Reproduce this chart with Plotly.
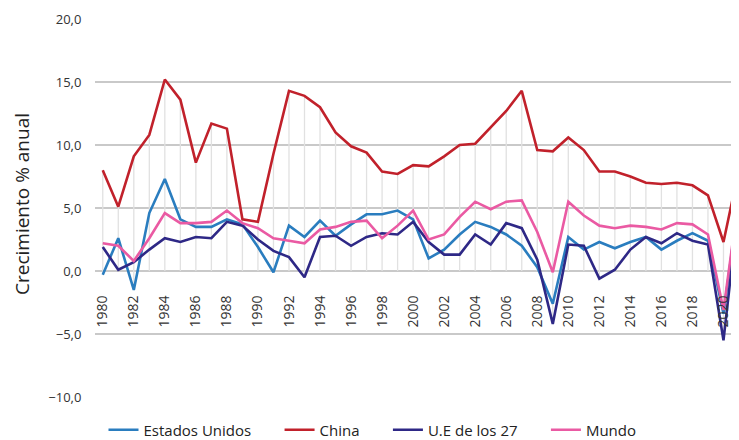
import plotly.graph_objects as go

# Years and annual growth (%)
years = list(range(1980, 2022))

estados_unidos = [-0.3, 2.6, -1.5, 4.6, 7.3, 4.1, 3.5, 3.5, 4.1, 3.7,
                  1.9, -0.1, 3.6, 2.7, 4.0, 2.8, 3.7, 4.5, 4.5, 4.8,
                  4.1, 1.0, 1.7, 2.9, 3.9, 3.5, 2.9, 2.0, 0.3, -2.6,
                  2.7, 1.7, 2.3, 1.8, 2.3, 2.7, 1.7, 2.4, 3.0, 2.4,
                  -3.4, 5.7]

china = [8.0, 5.1, 9.1, 10.8, 15.2, 13.6, 8.6, 11.7, 11.3, 4.1,
         3.9, 9.3, 14.3, 13.9, 13.0, 11.0, 9.9, 9.4, 7.9, 7.7,
         8.4, 8.3, 9.1, 10.0, 10.1, 11.4, 12.7, 14.3, 9.6, 9.5,
         10.6, 9.6, 7.9, 7.9, 7.5, 7.0, 6.9, 7.0, 6.8, 6.0,
         2.3, 8.1]

ue27 = [1.9, 0.1, 0.7, 1.7, 2.6, 2.3, 2.7, 2.6, 3.9, 3.6,
        2.5, 1.6, 1.1, -0.5, 2.7, 2.8, 2.0, 2.7, 3.0, 2.9,
        3.9, 2.3, 1.3, 1.3, 2.9, 2.1, 3.8, 3.4, 0.9, -4.2,
        2.1, 2.0, -0.6, 0.1, 1.7, 2.7, 2.2, 3.0, 2.4, 2.1,
        -5.5, 5.4]

mundo = [2.2, 2.0, 0.8, 2.6, 4.6, 3.8, 3.8, 3.9, 4.8, 3.8,
         3.4, 2.6, 2.4, 2.2, 3.3, 3.5, 3.9, 4.0, 2.6, 3.6,
         4.8, 2.5, 2.9, 4.3, 5.5, 4.9, 5.5, 5.6, 3.1, -0.1,
         5.5, 4.4, 3.6, 3.4, 3.6, 3.5, 3.3, 3.8, 3.7, 2.9,
         -3.1, 6.0]

series = [
    ('Estados Unidos', estados_unidos, '#2a7dbf'),
    ('China', china, '#c1212b'),
    ('U.E de los 27', ue27, '#2e2886'),
    ('Mundo', mundo, '#ea5aa3'),
]

FONT = 'Open Sans'
PAD = '\u00a0' * 6  # extra space after each legend entry

fig = go.Figure()

# Drop lines (from the axis to the highest / lowest point of each year)
drop_x, drop_y = [], []
for i, yr in enumerate(years):
    vals = [s[1][i] for s in series]
    drop_x += [yr, yr, None]
    drop_y += [min(0, min(vals)), max(0, max(vals)), None]
fig.add_trace(go.Scatter(
    x=drop_x, y=drop_y, mode='lines',
    line=dict(color='#e1e1e1', width=1.3),
    showlegend=False, hoverinfo='skip'
))

for name, vals, color in series:
    fig.add_trace(go.Scatter(
        x=years, y=vals, mode='lines', name=name + PAD,
        line=dict(color=color, width=2.6)
    ))

# the page puts the figure 8px in from the top-left corner
fig.update_layout(
    width=731, height=432,
    margin=dict(l=87, r=0, t=11, b=43, autoexpand=False),
    paper_bgcolor='white',
    plot_bgcolor='white',
    separators=',.',
    font=dict(family=FONT, color='#333333'),
    showlegend=True,
    legend=dict(
        orientation='h', x=(376 - 87) / 644, xanchor='center',
        y=(389 - 422) / 378, yanchor='middle',
        font=dict(size=15, color='#222222'),
        itemwidth=30, tracegroupgap=0
    ),
    xaxis=dict(
        range=[1979.5, 2021.0],
        tickmode='linear', tick0=1980, dtick=2,
        tickangle=-90,
        anchor='free', position=1/3,
        automargin=False,
        showgrid=False, zeroline=False, showline=False,
        ticks='outside', ticklen=18, tickcolor='rgba(0,0,0,0)',
        tickfont=dict(size=14, color='#333333'),
    ),
    yaxis=dict(
        range=[-10, 20], tickvals=[-10, -5, 0, 5, 10, 15, 20],
        tickformat='.1f',
        automargin=False,
        showgrid=True, gridcolor='#c9c9c9', gridwidth=1.5,
        zeroline=False, showline=False,
        ticks='outside', ticklen=10, tickcolor='rgba(0,0,0,0)',
        tickfont=dict(size=13, color='#333333'),
    ),
    annotations=[dict(
        text='Crecimiento % anual', textangle=-90,
        xref='paper', x=(14 - 87) / 644, xanchor='center',
        yref='paper', y=(389 - 196) / 378, yanchor='middle',
        showarrow=False, borderpad=0,
        font=dict(size=19, color='#222222')
    )],
)

fig.write_html('out.html')
